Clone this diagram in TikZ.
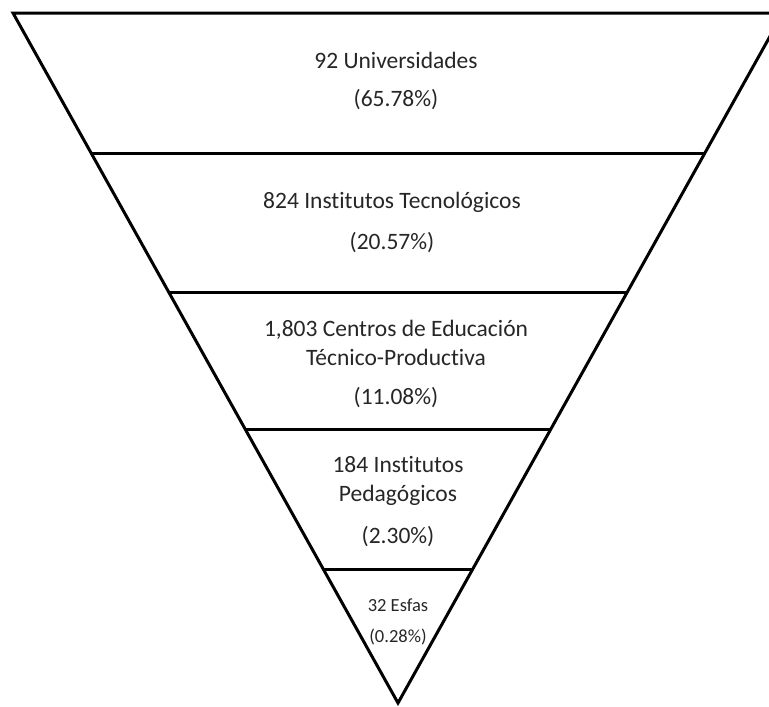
\documentclass[tikz,border=0pt]{standalone}
\usepackage{fontspec}
\setmainfont[Ligatures={NoCommon}]{Carlito}
\begin{document}
\begin{tikzpicture}[x=1pt,y=-1pt,
  edge/.style={line width=3pt,black,line cap=butt},
  lbl/.style={font=\fontsize{23.5}{29}\selectfont,align=center,inner sep=0pt,text=black!85},
  lblsmall/.style={font=\fontsize{18.5}{32}\selectfont,align=center,inner sep=0pt,text=black!85}]
\useasboundingbox (0,0) rectangle (769,707);
\clip (0,0) rectangle (769,707);
\coordinate (tl) at (13,13);
\coordinate (tr) at (783,13);
\coordinate (ap) at (398,703);
\draw[edge,line join=miter] (tl) -- (tr) -- (ap) -- cycle;
% horizontal dividers
\foreach \yy/\nm in {153/a,292/b,430/c,570/d}{
  \path (tl) -- (ap) coordinate[pos={(\yy-13)/690}] (L\nm);
  \path (tr) -- (ap) coordinate[pos={(\yy-13)/690}] (R\nm);
  \draw[edge] (L\nm) -- (R\nm);
}
\node[lbl] (n1) at (396,60) {92 Universidades};
\node[lbl] (p1) at (396,100) {(65.78\%)};
\node[lbl] (n2) at (392,202) {824 Institutos Tecnológicos};
\node[lbl] (p2) at (392,243) {(20.57\%)};
\node[lbl] (n3) at (396,343) {1,803 Centros de Educación\\Técnico-Productiva};
\node[lbl] (p3) at (396,398) {(11.08\%)};
\node[lbl] (n4) at (398,481) {184 Institutos\\Pedagógicos};
\node[lbl] (p4) at (398,537) {(2.30\%)};
\node[lblsmall] (n5) at (398,605) {32 Esfas};
\node[lblsmall] (p5) at (398,637) {(0.28\%)};
\end{tikzpicture}
\end{document}
